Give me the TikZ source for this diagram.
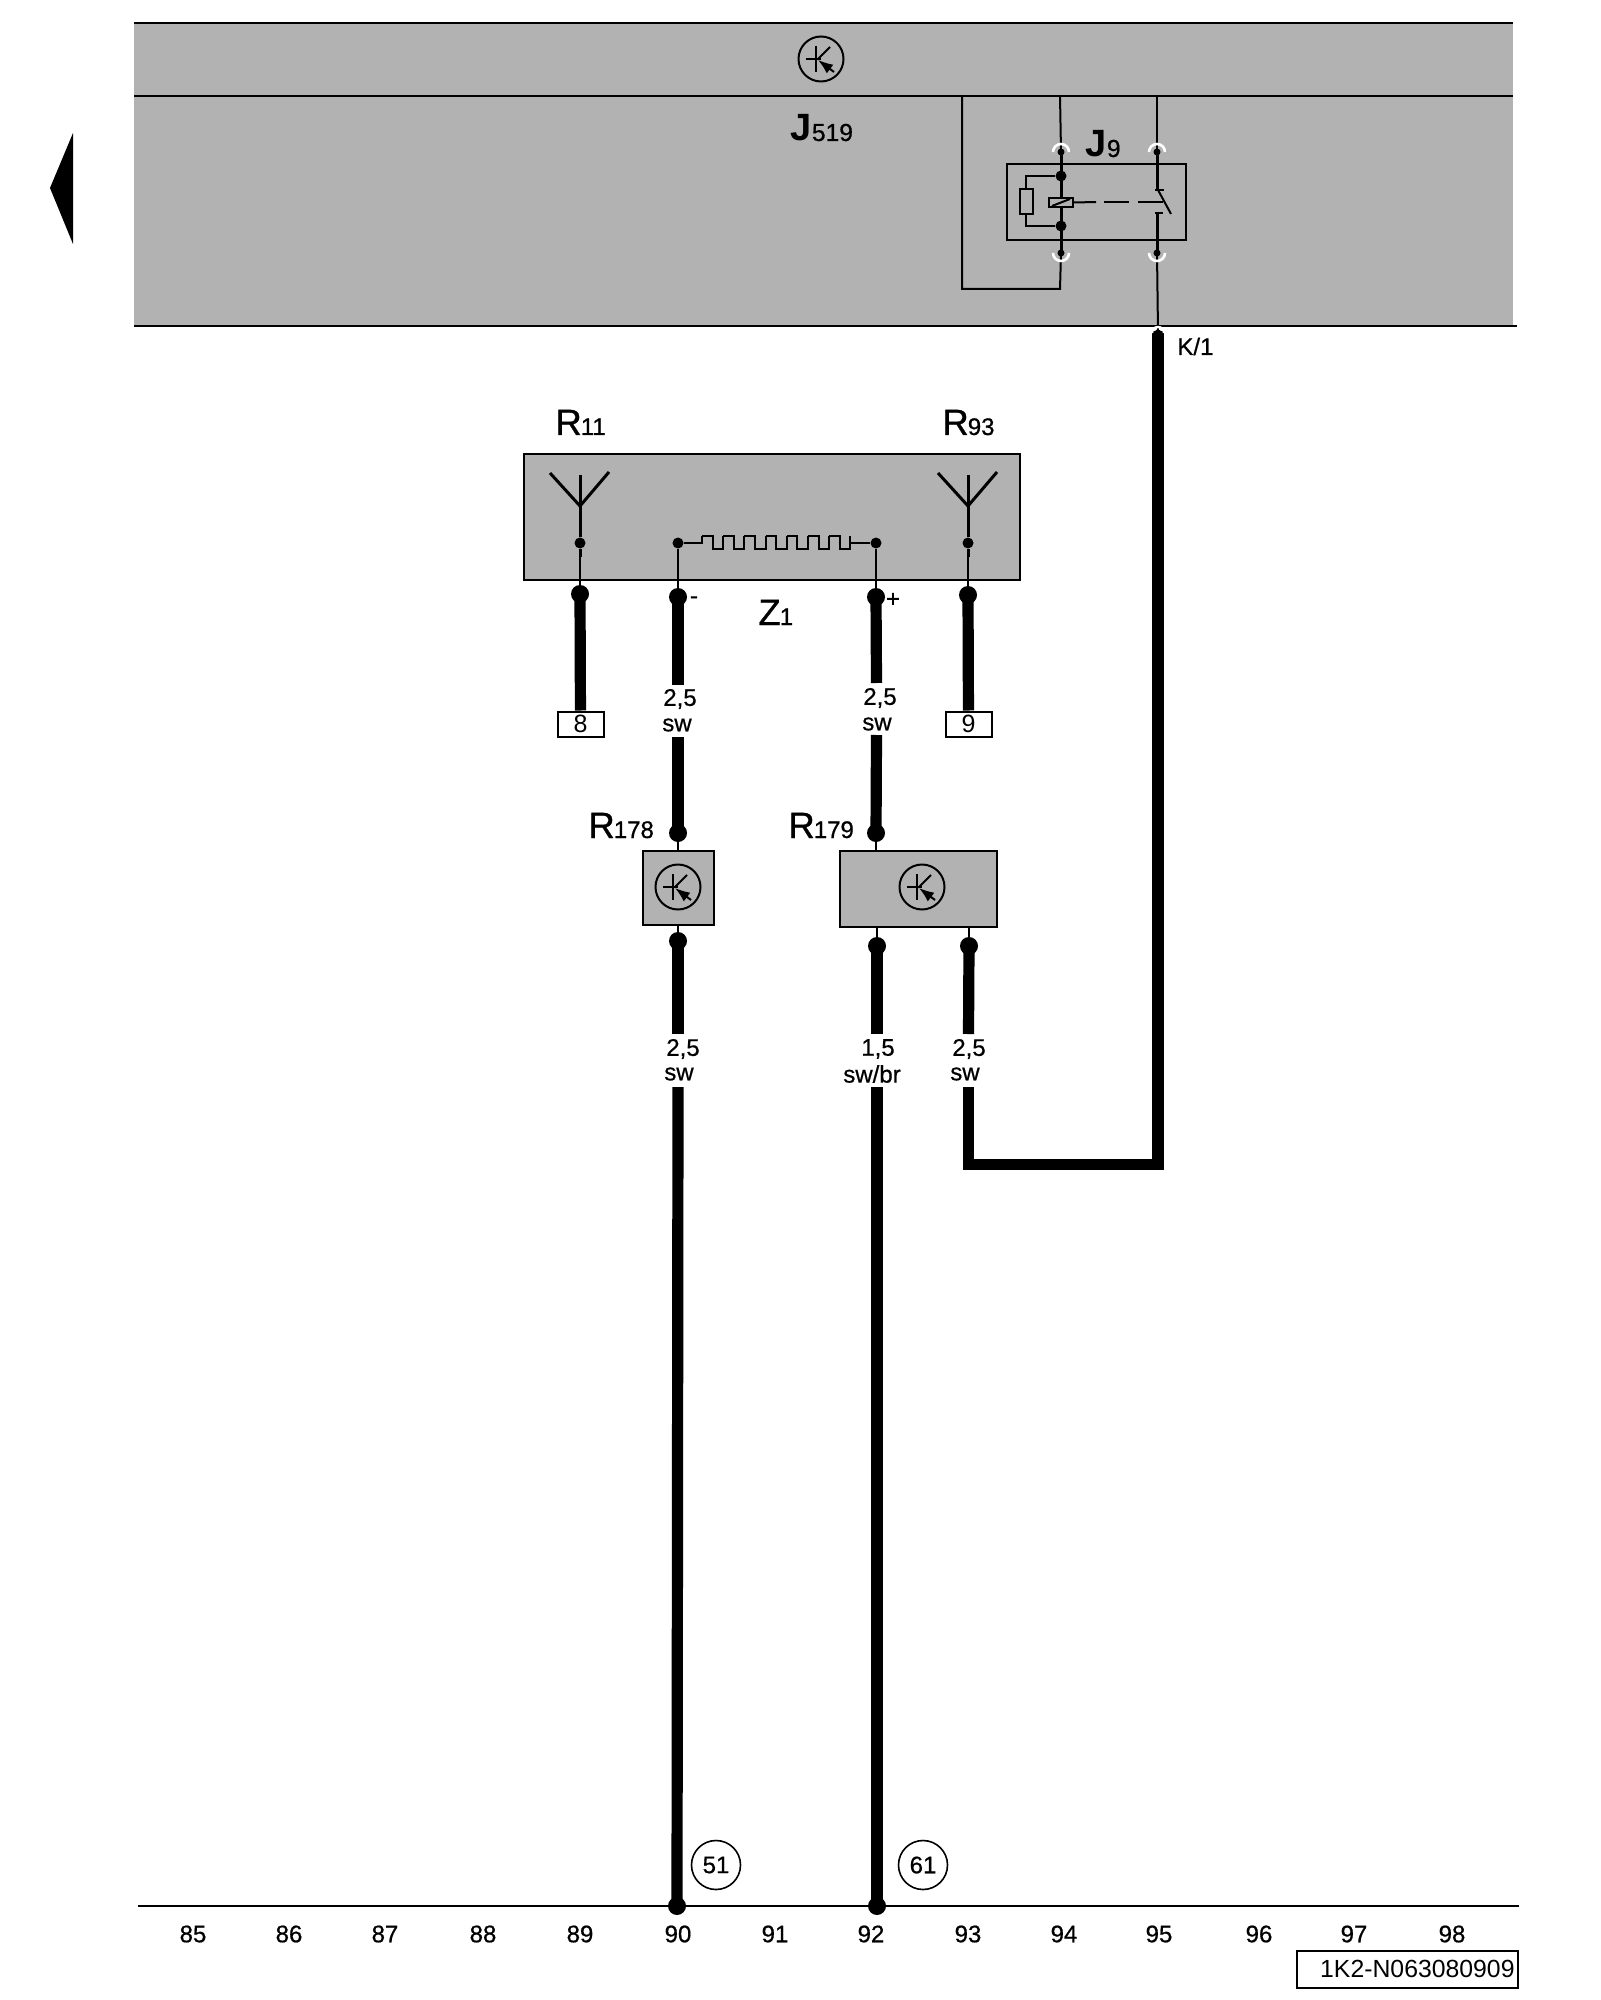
\documentclass[tikz,border=0pt]{standalone}
\usepackage{fontspec}
\setmainfont{Liberation Sans}
\newfontfamily\semifont[FakeBold=0.7]{Liberation Sans}
\usetikzlibrary{arrows.meta}

\definecolor{unitgray}{HTML}{B2B2B2}
\newcommand{\rname}[2]{{\semifont\fontsize{18.3pt}{19pt}\selectfont #1}\kern-0.5pt{\semifont\fontsize{12pt}{13pt}\selectfont #2}}
\newcommand{\jname}[2]{{\fontsize{19pt}{20pt}\selectfont\bfseries #1}\kern0.2pt{\semifont\fontsize{12.3pt}{13pt}\selectfont #2}}
\tikzset{
  thin wire/.style={line width=1pt},
  mid wire/.style={line width=1.5pt},
  thick wire/.style={line width=5.6pt},
  unit/.style={draw, fill=unitgray, line width=1pt},
  dot small/.style={circle, fill=black, inner sep=0pt, minimum size=5.5pt},
  dot big/.style={circle, fill=black, inner sep=0pt, minimum size=9pt},
  dot mini/.style={circle, fill=black, inner sep=0pt, minimum size=3.5pt},
  tag/.style={font=\semifont\fontsize{12pt}{13pt}\selectfont, inner sep=0pt},
  partname/.style={anchor=base west, inner sep=0pt},
  pinbox/.style={draw, fill=white, line width=1pt, inner sep=0pt, minimum width=23pt, minimum height=12.5pt, font=\fontsize{12.5pt}{13pt}\selectfont},
  refcircle/.style={draw, circle, line width=0.8pt, inner sep=0pt, minimum size=24.5pt, font=\semifont\fontsize{12pt}{13pt}\selectfont},
  colnum/.style={font=\semifont\fontsize{12pt}{13pt}\selectfont, inner sep=0pt}
}
% transistor sign, used for the three control units
\newcommand{\transistor}[2]{
  \node[draw, circle, line width=1pt, minimum size=22.5pt, inner sep=0pt] (#2) at #1 {};
  \draw[thin wire] ([xshift=-7.5pt]#2.center) -- (#2.center);
  \draw[thin wire] ([xshift=-2.5pt,yshift=6.3pt]#2.center) -- ([xshift=-2.5pt,yshift=-6.3pt]#2.center);
  \draw[thin wire] ([xshift=-1.5pt]#2.center) -- ([xshift=4.5pt,yshift=6pt]#2.center);
  \draw[thin wire, -{Latex[length=7.5pt,width=5.5pt]}] ([xshift=6.5pt,yshift=-6.5pt]#2.center) -- ([xshift=-1.5pt,yshift=-0.5pt]#2.center);
}
\newcommand{\antenna}[2]{
  \coordinate (#2tip) at #1;
  \draw[mid wire] (#2tip) -- ++(-30,-33);
  \draw[mid wire] (#2tip) -- ++(29,-34);
  \draw[mid wire] (#2tip) -- ++(0,-31);
}
% white socket arcs with the wire running through
\newcommand{\socketup}[1]{\draw[white, line width=1.3pt] #1 ++(-8,0) arc (180:0:4pt); \node[dot mini] at #1 {};}
\newcommand{\socketdown}[1]{\draw[white, line width=1.3pt] #1 ++(-8,0) arc (180:360:4pt); \node[dot mini] at #1 {};}

\begin{document}
\begin{tikzpicture}[x=0.5pt, y=-0.5pt]
\useasboundingbox (0,0) rectangle (1600,2000);

% control unit J519
\fill[unitgray] (134,23) rectangle (1513,326);
\draw[line width=1.1pt] (134,23) -- (1513,23);
\draw[line width=1.1pt] (134,96) -- (1513,96);
\draw[line width=1.1pt] (134,326) -- (1517,326);
\fill (73,133) -- (50,188) -- (73,244) -- cycle;
\transistor{(821,59)}{tzero}
\node[partname] (jmain) at (790,141) {\jname{J}{519}};

% relay J9
\node[partname] (jrelay) at (1085,157) {\jname{J}{9}};
\node[draw, line width=1pt, minimum width=89.5pt, minimum height=38pt, inner sep=0pt] (relay) at (1096.5,202) {};
\coordinate (ca) at (1061,152);
\coordinate (cb) at (1061,253);
\coordinate (cc) at (1157,152);
\coordinate (cd) at (1157,253);
\coordinate (ce) at (1158,333);
\node[dot small] (da) at (1061,176) {};
\node[dot small] (db) at (1061,226) {};
\draw[thin wire] (962,96) -- (962,289) -- (1060,289) -- (cb);
\draw[thin wire] (1060,96) -- (ca);
\draw[thin wire] (1157,96) -- (cc);
\draw[mid wire] (ca) -- (cb);
\draw[mid wire] (cc) -- (1157,190);
\draw[mid wire] (1157,213) -- (cd);
\draw[thin wire] (cd) -- (ce);
\draw[thin wire] (da) -| (1026,189);
\draw[thin wire] (db) -| (1026,214);
\node[draw, line width=1pt, minimum width=6.5pt, minimum height=12.5pt, inner sep=0pt] (res) at (1026.5,201.5) {};
\node[draw, fill=unitgray, line width=1pt, minimum width=12pt, minimum height=4.5pt, inner sep=0pt] (coil) at (1061,202.5) {};
\draw[thin wire] (1052,206) -- (1070,199);
\draw[thin wire] (coil.east) -- (1096,202);
\draw[thin wire] (1104,202) -- (1129,202);
\draw[thin wire] (1138,202) -- (1163,202);
\draw[thin wire] (1155,190) -- (1164,190);
\draw[thin wire] (1155,213) -- (1163,213);
\draw[thin wire] (1158,190) -- (1171,214);
\socketup{(ca)}
\socketup{(cc)}
\socketdown{(cb)}
\socketdown{(cd)}

% rear window unit
\node[unit, minimum width=248pt, minimum height=63pt, inner sep=0pt] (rear) at (772,517) {};
\antenna{(580,506)}{aa}
\antenna{(968,506)}{ab}
\node[partname] (rleft) at (555,435) {\rname{R}{11}};
\node[partname] (rright) at (942,435) {\rname{R}{93}};
\node[dot small] (pa) at (580,543) {};
\node[dot small] (pb) at (678,543) {};
\node[dot small] (pc) at (876,543) {};
\node[dot small] (pd) at (968,543) {};
\draw[mid wire] (aatip) -- (pa) -- ++(0,14);
\draw[mid wire] (abtip) -- (pd) -- ++(0,14);
\draw[thin wire] (pb) -- (702,543) -- (702,536);
\foreach \k in {0,...,6} {
  \draw[thin wire] ({702+21.2*\k},536) -- ({712.6+21.2*\k},536) -- ({712.6+21.2*\k},549) -- ({723.2+21.2*\k},549) -- ({723.2+21.2*\k},536);
}
\draw[thin wire] (850.4,536) -- (850.4,543) -- (pc);

% wires below the unit
\node[dot big] (wa) at (580,594) {};
\node[dot big] (wb) at (678,597) {};
\node[dot big] (wc) at (876,597) {};
\node[dot big] (wd) at (968,595) {};
\node[pinbox] (pin8) at (580.5,724) {8};
\node[pinbox] (pin9) at (968.5,724) {9};
\draw[thin wire] (pa) -- (wa);
\draw[thin wire] (pb) -- (wb);
\draw[thin wire] (pc) -- (wc);
\draw[thin wire] (pd) -- (wd);
\draw[thick wire] (wa.center) -- (pin8);
\draw[thick wire] (wd.center) -- (pin9);
\node[tag] (minus) at (694,600) {-};
\node[tag] (plus) at (893,600) {+};
\node[partname] (zone) at (758,625) {\rname{Z}{1}};

% modules R178 and R179
\node[unit, minimum width=35.5pt, minimum height=37pt, inner sep=0pt] (rone) at (678.5,888) {};
\node[unit, minimum width=78.5pt, minimum height=38pt, inner sep=0pt] (rtwo) at (918.5,889) {};
\transistor{(678,887)}{tone}
\transistor{(922,887)}{ttwo}
\node[partname] (rlone) at (588,838) {\rname{R}{178}};
\node[partname] (rltwo) at (788,838) {\rname{R}{179}};
\node[dot big] (ma) at (678,833) {};
\node[dot big] (mb) at (876,833) {};
\node[dot big] (mc) at (678,941) {};
\node[dot big] (md) at (877,946) {};
\node[dot big] (me) at (969,946) {};
\draw[thin wire] (ma) -- (678,851);
\draw[thin wire] (mb) -- (876,851);
\draw[thin wire] (mc) -- (678,925);
\draw[thin wire] (md) -- (877,927);
\draw[thin wire] (me) -- (969,927);

% bottom rail
\draw[line width=1.1pt] (138,1906) -- (1519,1906);
\node[dot big] (ga) at (677,1906) {};
\node[dot big] (gb) at (877,1906) {};

% heavy wires, broken at their labels
\coordinate (kone) at (1158,331);
\foreach \nam/\x/\y/\txt in {sa/680/699/{2,5}, sb/677/725/sw, sc/880/698/{2,5}, sd/877/724/sw,
  se/683/1049/{2,5}, sf/679/1074/sw, sg/878/1049/{1,5}, sh/872/1074/{sw/br}, si/969/1049/{2,5}, sj/965/1074/sw} {
  \node[tag] (\nam) at (\x,\y) {\txt};
}
\draw[thick wire] (wb.center) -- (678,685);
\draw[thick wire] (678,737) -- (ma.center);
\draw[thick wire] (wc.center) -- (876.5,683);
\draw[thick wire] (876.5,735) -- (mb.center);
\draw[thick wire] (mc.center) -- (678,1034);
\draw[thick wire] (678,1087) -- (ga.center);
\draw[thick wire] (md.center) -- (877,1034);
\draw[thick wire] (877,1087) -- (gb.center);
\draw[thick wire] (me.center) -- (968.5,1034);
\draw[thick wire] (968.5,1087) -- (968.5,1164.5) -- (1158,1164.5) -- (kone);
\draw[white, line width=1.2pt] (ce) ++(-6,0) arc (180:0:3pt);
\node[dot mini] (kdot) at (ce) {};
\node[anchor=base west, inner sep=0pt, font=\semifont\fontsize{12pt}{13pt}\selectfont] (kl) at (1177,355) {K/1};

% references and columns
\node[refcircle] (ref51) at (716,1865) {51};
\node[refcircle] (ref61) at (923,1865) {61};
\foreach \x/\lab in {193/85, 289/86, 385/87, 483/88, 580/89, 678/90, 775/91, 871/92, 968/93, 1064/94, 1159/95, 1259/96, 1354/97, 1452/98} {
  \node[colnum] (col\lab) at (\x,1934) {\lab};
}
\node[draw, line width=1pt, minimum width=110.5pt, minimum height=18.5pt, inner sep=0pt] (code) at (1407.5,1969.5) {};
\node[anchor=base east, inner sep=0pt, font=\fontsize{12.4pt}{13pt}\selectfont] (codetxt) at (1515,1977) {1K2-N063080909};
\end{tikzpicture}
\end{document}
